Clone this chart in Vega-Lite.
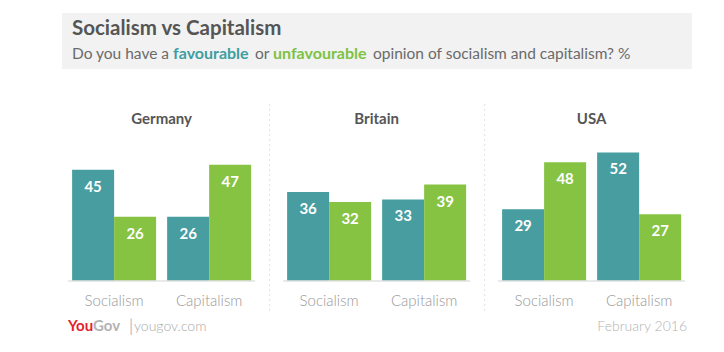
{
  "$schema": "https://vega.github.io/schema/vega-lite/v6.json",
  "padding": {"left": 62, "top": 13, "right": 0, "bottom": 0},
  "config": {"view": {"stroke": null}, "font": "Lato"},
  "datasets": {
    "poll": [
      {"country": "Germany", "topic": "Socialism", "opinion": "Favourable", "pct": 45},
      {"country": "Germany", "topic": "Socialism", "opinion": "Unfavourable", "pct": 26},
      {"country": "Germany", "topic": "Capitalism", "opinion": "Favourable", "pct": 26},
      {"country": "Germany", "topic": "Capitalism", "opinion": "Unfavourable", "pct": 47},
      {"country": "Britain", "topic": "Socialism", "opinion": "Favourable", "pct": 36},
      {"country": "Britain", "topic": "Socialism", "opinion": "Unfavourable", "pct": 32},
      {"country": "Britain", "topic": "Capitalism", "opinion": "Favourable", "pct": 33},
      {"country": "Britain", "topic": "Capitalism", "opinion": "Unfavourable", "pct": 39},
      {"country": "USA", "topic": "Socialism", "opinion": "Favourable", "pct": 29},
      {"country": "USA", "topic": "Socialism", "opinion": "Unfavourable", "pct": 48},
      {"country": "USA", "topic": "Capitalism", "opinion": "Favourable", "pct": 52},
      {"country": "USA", "topic": "Capitalism", "opinion": "Unfavourable", "pct": 27}
    ]
  },
  "center": true,
  "spacing": 34,
  "vconcat": [
    {
      "width": 630,
      "height": 56,
      "view": {"fill": "#f2f2f2", "stroke": null},
      "data": {"values": [{}]},
      "layer": [
        {"mark": {"type": "text", "text": "Socialism vs Capitalism", "x": 10, "y": 22, "align": "left", "baseline": "alphabetic", "fontSize": 20.5, "fontWeight": "bold", "color": "#555555"}},
        {"mark": {"type": "text", "text": "Do you have a", "x": 10, "y": 46, "align": "left", "baseline": "alphabetic", "fontSize": 15.5, "color": "#6a6a6a"}},
        {"mark": {"type": "text", "text": "favourable", "x": 111, "y": 46, "align": "left", "baseline": "alphabetic", "fontSize": 16, "fontWeight": "bold", "color": "#3f9ea1"}},
        {"mark": {"type": "text", "text": "or", "x": 193, "y": 46, "align": "left", "baseline": "alphabetic", "fontSize": 15.5, "color": "#6a6a6a"}},
        {"mark": {"type": "text", "text": "unfavourable", "x": 211, "y": 46, "align": "left", "baseline": "alphabetic", "fontSize": 16, "fontWeight": "bold", "color": "#7dc243"}},
        {"mark": {"type": "text", "text": "opinion of socialism and capitalism? %", "x": 311, "y": 46, "align": "left", "baseline": "alphabetic", "fontSize": 15.5, "color": "#6a6a6a"}}
      ]
    },
    {
      "spacing": 5,
      "center": true,
      "vconcat": [
        {
          "bounds": "flush",
          "spacing": 28,
          "hconcat": [
            {
              "width": 187,
              "height": 207,
              "data": {"name": "poll"},
              "transform": [{"filter": "datum.country === 'Germany'"}],
              "title": {"text": "Germany", "offset": -35.5, "baseline": "alphabetic", "fontSize": 15, "fontWeight": "bold", "color": "#555555"},
              "encoding": {
                "y": {"field": "pct", "type": "quantitative", "scale": {"domain": [-11.7, 72], "nice": false}, "axis": null}
              },
              "layer": [
                {
                  "mark": {"type": "bar"},
                  "encoding": {
                    "x": {"field": "topic", "type": "nominal", "sort": ["Socialism", "Capitalism"], "scale": {"paddingInner": 0.116, "paddingOuter": 0.042}, "axis": {"title": null, "domain": false, "ticks": false, "labelAngle": 0, "labelFontSize": 15, "labelFontWeight": 300, "labelColor": "#999999", "labelBaseline": "alphabetic", "labelPadding": 0, "offset": -5}},
                    "xOffset": {"field": "opinion", "type": "nominal", "sort": ["Favourable", "Unfavourable"], "scale": {"paddingInner": 0, "paddingOuter": 0}},
                    "color": {"field": "opinion", "type": "nominal", "scale": {"domain": ["Favourable", "Unfavourable"], "range": ["#479d9f", "#86c343"]}, "legend": null}
                  }
                },
                {
                  "mark": {"type": "text", "baseline": "middle", "dy": 17, "fontSize": 15, "fontWeight": "bold", "color": "white"},
                  "encoding": {
                    "x": {"field": "topic", "type": "nominal", "sort": ["Socialism", "Capitalism"]},
                    "xOffset": {"field": "opinion", "type": "nominal", "sort": ["Favourable", "Unfavourable"]},
                    "text": {"field": "pct", "type": "quantitative"}
                  }
                },
                {
                  "transform": [{"filter": "datum.topic === 'Socialism' && datum.opinion === 'Favourable'"}],
                  "mark": {"type": "rule", "color": "#e2e2e2", "strokeWidth": 1.5},
                  "encoding": {"y": {"datum": 0, "type": "quantitative", "axis": null}}
                }
              ]
            },
            {
              "width": 187,
              "height": 207,
              "data": {"name": "poll"},
              "transform": [{"filter": "datum.country === 'Britain'"}],
              "title": {"text": "Britain", "offset": -35.5, "baseline": "alphabetic", "fontSize": 15, "fontWeight": "bold", "color": "#555555"},
              "encoding": {
                "y": {"field": "pct", "type": "quantitative", "scale": {"domain": [-11.7, 72], "nice": false}, "axis": {"orient": "left", "domain": true, "domainDash": [1, 4], "domainColor": "#c4c4c4", "labels": false, "ticks": false, "grid": false, "title": null, "offset": 14}}
              },
              "layer": [
                {
                  "mark": {"type": "bar"},
                  "encoding": {
                    "x": {"field": "topic", "type": "nominal", "sort": ["Socialism", "Capitalism"], "scale": {"paddingInner": 0.116, "paddingOuter": 0.042}, "axis": {"title": null, "domain": false, "ticks": false, "labelAngle": 0, "labelFontSize": 15, "labelFontWeight": 300, "labelColor": "#999999", "labelBaseline": "alphabetic", "labelPadding": 0, "offset": -5}},
                    "xOffset": {"field": "opinion", "type": "nominal", "sort": ["Favourable", "Unfavourable"], "scale": {"paddingInner": 0, "paddingOuter": 0}},
                    "color": {"field": "opinion", "type": "nominal", "scale": {"domain": ["Favourable", "Unfavourable"], "range": ["#479d9f", "#86c343"]}, "legend": null}
                  }
                },
                {
                  "mark": {"type": "text", "baseline": "middle", "dy": 17, "fontSize": 15, "fontWeight": "bold", "color": "white"},
                  "encoding": {
                    "x": {"field": "topic", "type": "nominal", "sort": ["Socialism", "Capitalism"]},
                    "xOffset": {"field": "opinion", "type": "nominal", "sort": ["Favourable", "Unfavourable"]},
                    "text": {"field": "pct", "type": "quantitative"}
                  }
                },
                {
                  "transform": [{"filter": "datum.topic === 'Socialism' && datum.opinion === 'Favourable'"}],
                  "mark": {"type": "rule", "color": "#e2e2e2", "strokeWidth": 1.5},
                  "encoding": {"y": {"datum": 0, "type": "quantitative", "axis": {"orient": "left", "domain": true, "domainDash": [1, 4], "domainColor": "#c4c4c4", "labels": false, "ticks": false, "grid": false, "title": null, "offset": 14}}}
                }
              ]
            },
            {
              "width": 187,
              "height": 207,
              "data": {"name": "poll"},
              "transform": [{"filter": "datum.country === 'USA'"}],
              "title": {"text": "USA", "offset": -35.5, "baseline": "alphabetic", "fontSize": 15, "fontWeight": "bold", "color": "#555555"},
              "encoding": {
                "y": {"field": "pct", "type": "quantitative", "scale": {"domain": [-11.7, 72], "nice": false}, "axis": {"orient": "left", "domain": true, "domainDash": [1, 4], "domainColor": "#c4c4c4", "labels": false, "ticks": false, "grid": false, "title": null, "offset": 14}}
              },
              "layer": [
                {
                  "mark": {"type": "bar"},
                  "encoding": {
                    "x": {"field": "topic", "type": "nominal", "sort": ["Socialism", "Capitalism"], "scale": {"paddingInner": 0.116, "paddingOuter": 0.042}, "axis": {"title": null, "domain": false, "ticks": false, "labelAngle": 0, "labelFontSize": 15, "labelFontWeight": 300, "labelColor": "#999999", "labelBaseline": "alphabetic", "labelPadding": 0, "offset": -5}},
                    "xOffset": {"field": "opinion", "type": "nominal", "sort": ["Favourable", "Unfavourable"], "scale": {"paddingInner": 0, "paddingOuter": 0}},
                    "color": {"field": "opinion", "type": "nominal", "scale": {"domain": ["Favourable", "Unfavourable"], "range": ["#479d9f", "#86c343"]}, "legend": null}
                  }
                },
                {
                  "mark": {"type": "text", "baseline": "middle", "dy": 17, "fontSize": 15, "fontWeight": "bold", "color": "white"},
                  "encoding": {
                    "x": {"field": "topic", "type": "nominal", "sort": ["Socialism", "Capitalism"]},
                    "xOffset": {"field": "opinion", "type": "nominal", "sort": ["Favourable", "Unfavourable"]},
                    "text": {"field": "pct", "type": "quantitative"}
                  }
                },
                {
                  "transform": [{"filter": "datum.topic === 'Socialism' && datum.opinion === 'Favourable'"}],
                  "mark": {"type": "rule", "color": "#e2e2e2", "strokeWidth": 1.5},
                  "encoding": {"y": {"datum": 0, "type": "quantitative", "axis": {"orient": "left", "domain": true, "domainDash": [1, 4], "domainColor": "#c4c4c4", "labels": false, "ticks": false, "grid": false, "title": null, "offset": 14}}}
                }
              ]
            }
          ]
        },
        {
          "width": 630,
          "height": 20,
          "data": {"values": [{}]},
          "layer": [
            {"mark": {"type": "text", "text": "You", "x": 6, "y": 16, "align": "left", "baseline": "alphabetic", "fontSize": 15, "fontWeight": "bold", "letterSpacing": -0.5, "color": "#e3222b"}},
            {"mark": {"type": "text", "text": "Gov", "x": 31, "y": 16, "align": "left", "baseline": "alphabetic", "fontSize": 15, "fontWeight": "bold", "letterSpacing": -0.5, "color": "#b3b3b3"}},
            {"mark": {"type": "text", "text": "|", "x": 67, "y": 17, "align": "left", "baseline": "alphabetic", "fontSize": 17, "color": "#c4c4c4"}},
            {"mark": {"type": "text", "text": "yougov.com", "x": 72, "y": 16, "align": "left", "baseline": "alphabetic", "fontSize": 14, "fontWeight": 300, "color": "#a8a8a8"}},
            {"mark": {"type": "text", "text": "February 2016", "x": 625, "y": 16, "align": "right", "baseline": "alphabetic", "fontSize": 14, "fontWeight": 300, "color": "#b3b3b3"}}
          ]
        }
      ]
    }
  ]
}
